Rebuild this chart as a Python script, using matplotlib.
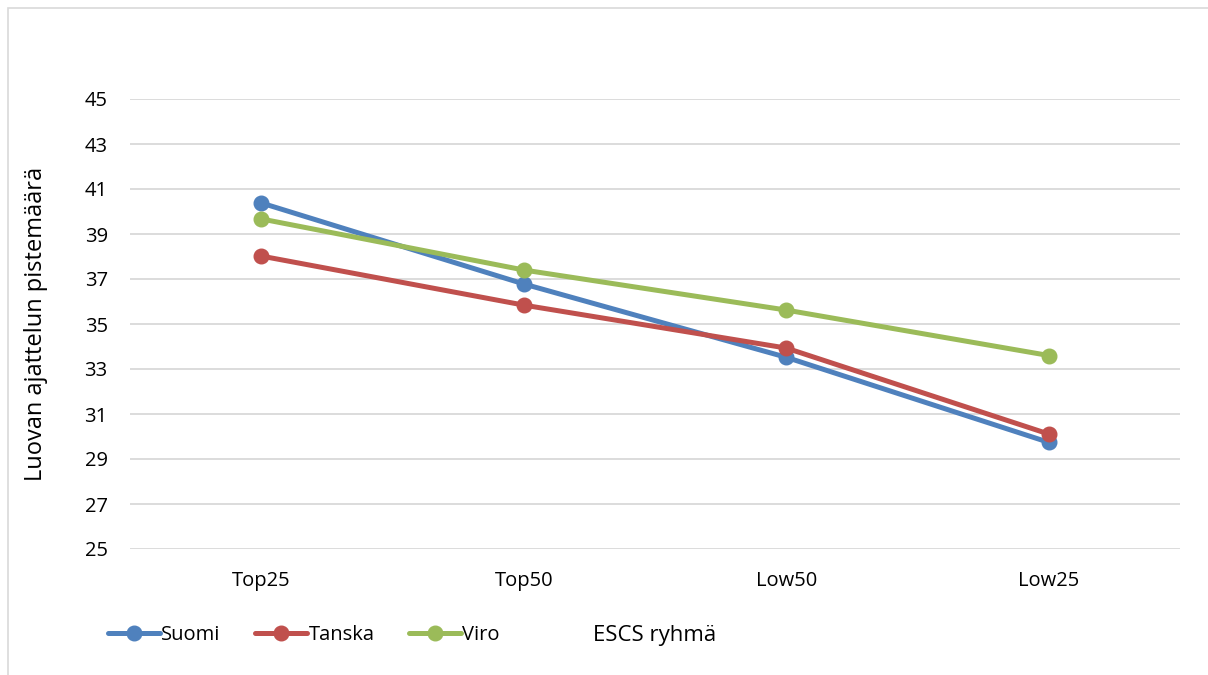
import matplotlib
matplotlib.use("Agg")
import matplotlib.pyplot as plt
from matplotlib.patches import Rectangle

plt.rcParams['font.family'] = ['Open Sans', 'DejaVu Sans']

categories = ["Top25", "Top50", "Low50", "Low25"]
suomi = [40.38, 36.78, 33.52, 29.74]
tanska = [38.02, 35.84, 33.93, 30.11]
viro = [39.67, 37.40, 35.62, 33.60]
series_names = ["Suomi", "Tanska", "Viro"]
colors = ["#4f81bd", "#c0504d", "#9bbb59"]
yticks = list(range(25, 46, 2))

fig = plt.figure(figsize=(12.08, 6.75), dpi=100)
fig.patches.append(Rectangle((8/1208, -0.1), 1.2, 1 - 8/675 + 0.1, transform=fig.transFigure,
                             fill=False, edgecolor="#d9d9d9", linewidth=1.2))
ax = fig.add_axes([130/1208, 1 - 549/675, 1050/1208, 450/675])

x = list(range(len(categories)))
for name, vals, c in zip(series_names, [suomi, tanska, viro], colors):
    ax.plot(x, vals, color=c, linewidth=3.6, marker='o', markersize=10.5,
            label=name, solid_capstyle='round', zorder=3)

ax.set_xlim(-0.5, len(categories) - 0.5)
ax.set_ylim(25, 45)
ax.set_yticks(yticks)
ax.set_xticks(x)
ax.set_xticklabels(categories)
ax.grid(axis='y', color='#d9d9d9', linewidth=1.3, zorder=0)
ax.set_axisbelow(True)
for s in ax.spines.values():
    s.set_visible(False)
ax.tick_params(axis='both', length=0, labelsize=14.5, colors='black')
ax.tick_params(axis='y', pad=16)
ax.tick_params(axis='x', pad=16)
ax.set_ylabel("Luovan ajattelun pistemäärä", fontsize=17, labelpad=26)
ax.set_xlabel("ESCS ryhmä", fontsize=16, labelpad=24)

fig.legend(loc='center left', bbox_to_anchor=(100/1208, 1 - 635/675), ncol=3,
           frameon=False, fontsize=14.5, handlelength=2.6, handletextpad=0.05,
           columnspacing=1.7, borderaxespad=0)

fig.savefig("out.png", dpi=100)
